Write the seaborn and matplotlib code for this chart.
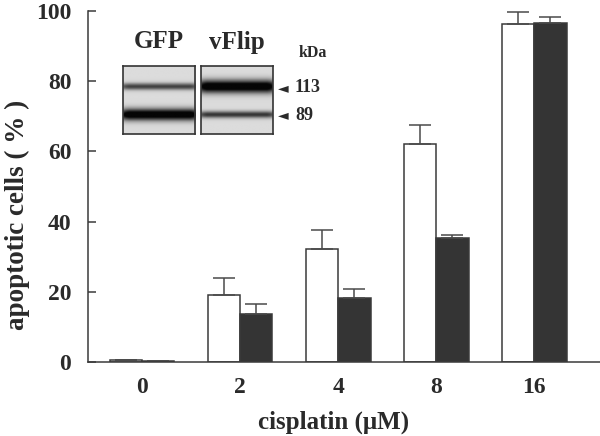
import numpy as np
import pandas as pd
import matplotlib
matplotlib.use("Agg")
import matplotlib.pyplot as plt
import seaborn as sns

# ---- data ---------------------------------------------------------------
doses = ["0", "2", "4", "8", "16"]
gfp_mean = [0.5, 19.1, 32.3, 62.0, 96.3]
gfp_err = [0.0, 4.7, 5.4, 5.5, 3.4]
vflip_mean = [0.3, 13.6, 18.1, 35.2, 96.6]
vflip_err = [0.0, 2.9, 2.7, 0.9, 1.7]
constructs = ["GFP", "vFlip"]

# western blot inset: band strength per lane (113 kDa, 89 kDa)
blot_lanes = ["GFP", "vFlip"]
band_kda = ["113", "89"]
band_strength = {"GFP": [0.6, 1.0], "vFlip": [1.0, 0.65]}
band_width = {"GFP": [0.05, 0.085], "vFlip": [0.095, 0.05]}

df = pd.DataFrame({
    "dose": doses * 2,
    "pct": gfp_mean + vflip_mean,
    "err": gfp_err + vflip_err,
    "construct": ["GFP"] * len(doses) + ["vFlip"] * len(doses),
})

sns.set_style("ticks")
plt.rcParams["font.family"] = ["Liberation Serif", "DejaVu Serif"]
plt.rcParams["font.weight"] = "bold"
INK = "#2a2a2a"

fig = plt.figure(figsize=(6, 4.36), dpi=100)
ax = fig.add_axes([0.1467, 0.1697, 0.8533, 0.805])

sns.barplot(data=df, x="dose", y="pct", hue="construct", order=doses,
            hue_order=constructs, palette={"GFP": "white", "vFlip": "#343434"},
            edgecolor="#3a3a3a", linewidth=1.1, width=0.66, gap=0,
            legend=False, errorbar=None, ax=ax)

# upward-only error bars
for cont, name in zip(ax.containers, constructs):
    sub = df[df["construct"] == name].set_index("dose").loc[doses]
    xs = [b.get_x() + b.get_width() / 2 for b in cont]
    ys = [b.get_height() for b in cont]
    errs = sub["err"].to_numpy()
    ax.errorbar(xs, ys, yerr=[np.zeros_like(errs), errs], fmt="none",
                ecolor="#4a4a4a", elinewidth=1.1, capsize=8, capthick=1.1)

ax.set_xlim(-0.551, 4.67)
ax.set_ylim(0, 100)
ax.set_yticks([0, 20, 40, 60, 80, 100])
sns.despine(ax=ax)
for s in ["left", "bottom"]:
    ax.spines[s].set_color("#3a3a3a")
    ax.spines[s].set_linewidth(1.1)
ax.tick_params(axis="y", direction="in", length=6, width=1.1, color="#3a3a3a",
               labelsize=17, pad=12)
ax.tick_params(axis="x", length=0, labelsize=17, pad=11)
for t in ax.get_xticklabels() + ax.get_yticklabels():
    t.set_fontweight("bold")
    t.set_color(INK)
xl = ax.set_xlabel("cisplatin (\u03bcM)", fontsize=18, fontweight="bold", color=INK)
yl = ax.set_ylabel("apoptotic cells ( % )", fontsize=19.5, fontweight="bold", color=INK)
xl.set_va("center")
yl.set_va("center")
ax.xaxis.set_label_coords(0.479, -0.171)
ax.yaxis.set_label_coords(-0.137, 0.42)

# ---- western blot inset --------------------------------------------------
rows = np.linspace(0, 1, 120)[:, None]
cols = np.linspace(0, 1, 130)[None, :]
band_pos = [0.31, 0.72]
lane_boxes = {"GFP": [122.7, 195.0], "vFlip": [200.7, 272.7]}
box_top, box_bot = 65.7, 134.0
W, H = 600.0, 436.0
for lane in blot_lanes:
    x0, x1 = lane_boxes[lane]
    iax = fig.add_axes([x0 / W, 1 - box_bot / H, (x1 - x0) / W, (box_bot - box_top) / H])
    img = np.zeros((rows.shape[0], cols.shape[1]))
    edge = np.clip(np.minimum(cols, 1 - cols) / 0.08, 0, 1) ** 0.5
    for pos, st, wd in zip(band_pos, band_strength[lane], band_width[lane]):
        img += st * np.exp(-((rows - pos) / wd) ** 2) * (0.7 + 0.3 * edge)
    img = 0.86 - 0.84 * np.clip(img * 1.2, 0, 1)
    iax.imshow(img, cmap="gray", vmin=0, vmax=1, aspect="auto",
               interpolation="bilinear")
    iax.set_xticks([])
    iax.set_yticks([])
    for s in iax.spines.values():
        s.set_color("#333333")
        s.set_linewidth(1.2)
    fig.text(((x0 + x1) / 2) / W, 1 - 42 / H, lane, ha="center", va="center",
             fontsize=18, fontweight="bold", color=INK)

fig.text(313 / W, 1 - 53 / H, "kDa", ha="center", va="center",
         fontsize=11.5, fontweight="bold", color=INK)
for kda, yy in zip(band_kda, [88, 115]):
    fig.text(283 / W, 1 - yy / H, "\u25c4", ha="center", va="center",
             fontsize=10, color=INK, family="DejaVu Sans")
    fig.text(295 / W, 1 - yy / H, kda, ha="left", va="center",
             fontsize=13, fontweight="bold", color=INK)

fig.savefig("out.png", dpi=100)
